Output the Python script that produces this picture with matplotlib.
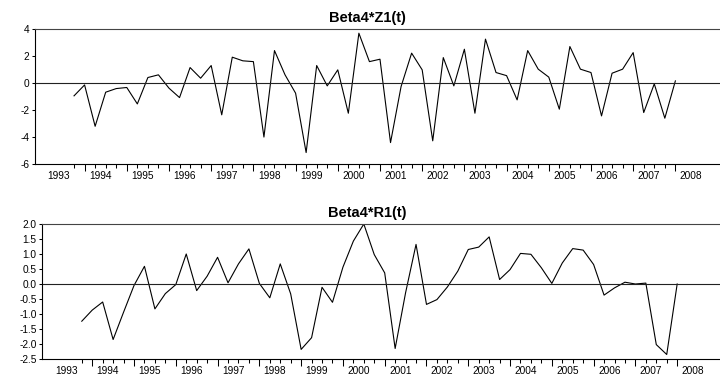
import numpy as np
import matplotlib.pyplot as plt
from matplotlib.ticker import FormatStrFormatter

plt.rcParams['font.family'] = ['Liberation Sans', 'DejaVu Sans']

# Quarterly observations, 1993Q4 .. 2008Q1
years = list(range(1993, 2009))
first_quarter = (1993, 4)

z1 = [-0.94, -0.13, -3.2, -0.67, -0.4, -0.32, -1.54, 0.42, 0.62, -0.37,
      -1.07, 1.16, 0.37, 1.31, -2.35, 1.93, 1.66, 1.6, -4.0, 2.42,
      0.62, -0.74, -5.15, 1.31, -0.2, 0.99, -2.23, 3.71, 1.6, 1.78,
      -4.41, -0.25, 2.23, 0.99, -4.28, 1.9, -0.2, 2.52, -2.23, 3.27,
      0.79, 0.56, -1.24, 2.42, 1.04, 0.45, -1.93, 2.72, 1.04, 0.79,
      -2.43, 0.74, 1.04, 2.27, -2.18, -0.05, -2.6, 0.17]

r1 = [-1.25, -0.88, -0.61, -1.86, -0.95, -0.06, 0.58, -0.84, -0.33, -0.03,
      0.99, -0.23, 0.25, 0.88, 0.03, 0.66, 1.16, 0.01, -0.47, 0.66,
      -0.34, -2.19, -1.8, -0.12, -0.62, 0.55, 1.42, 1.99, 0.97, 0.36,
      -2.16, -0.3, 1.31, -0.69, -0.53, -0.11, 0.42, 1.14, 1.22, 1.56,
      0.14, 0.47, 1.01, 0.98, 0.53, 0.01, 0.69, 1.17, 1.12, 0.64,
      -0.38, -0.14, 0.05, -0.01, 0.02, -2.03, -2.36, -0.01]

titles = ['Beta4*Z1(t)', 'Beta4*R1(t)']
yticks_top = [-6, -4, -2, 0, 2, 4]
yticks_bot = [-2.5, -2.0, -1.5, -1.0, -0.5, 0.0, 0.5, 1.0, 1.5, 2.0]

fig = plt.figure(figsize=(7.2, 3.76), dpi=100)


def qindex(year, q):
    return (year - first_quarter[0]) * 4 + (q - first_quarter[1])


def panel(rect, data, yticks, xlim, title, title_y, fmt):
    ax = fig.add_axes(rect)
    x = np.arange(len(data))
    ax.plot(x, data, color='black', lw=0.8)
    ax.axhline(0, color='#222222', lw=0.8)
    ax.set_xlim(*xlim)
    ax.set_ylim(yticks[0], yticks[-1])
    ax.set_yticks(yticks)
    ax.yaxis.set_major_formatter(FormatStrFormatter(fmt))

    # long ticks at Q1, short ticks at the other quarters
    q1 = [i for i in x if (i + first_quarter[1] - 1) % 4 == 0]
    other = [i for i in x if i not in q1]
    ax.set_xticks(q1)
    ax.set_xticks(other, minor=True)
    ax.set_xticklabels([])
    ax.tick_params(axis='x', which='major', length=5, width=0.75, direction='out')
    ax.tick_params(axis='x', which='minor', length=2.7, width=0.75, direction='out')
    ax.tick_params(axis='y', length=2.5, width=0.75, pad=1.5, labelsize=7.3)

    for y in years:
        ax.text(qindex(y, 1) + 1.5, -0.055, str(y), transform=ax.get_xaxis_transform(),
                ha='center', va='top', fontsize=7.3)

    ax.spines['right'].set_visible(False)
    ax.spines['top'].set_color('#444444')
    for s in ['left', 'bottom', 'top']:
        ax.spines[s].set_linewidth(0.8)
    fig.text(367.5 / 720, 1 - title_y / 376, title, ha='center', va='center',
             fontsize=10.5, fontweight='bold')
    return ax


panel([35 / 720, 1 - 164 / 376, 685 / 720, (164 - 29.3) / 376], z1, yticks_top,
      (-3.70, 61.23), titles[0], 18, '%d')
panel([42.3 / 720, 1 - 358.7 / 376, 677.7 / 720, (358.7 - 223.7) / 376], r1, yticks_bot,
      (-3.78, 61.1), titles[1], 213, '%.1f')

fig.savefig('out.png', dpi=100)
